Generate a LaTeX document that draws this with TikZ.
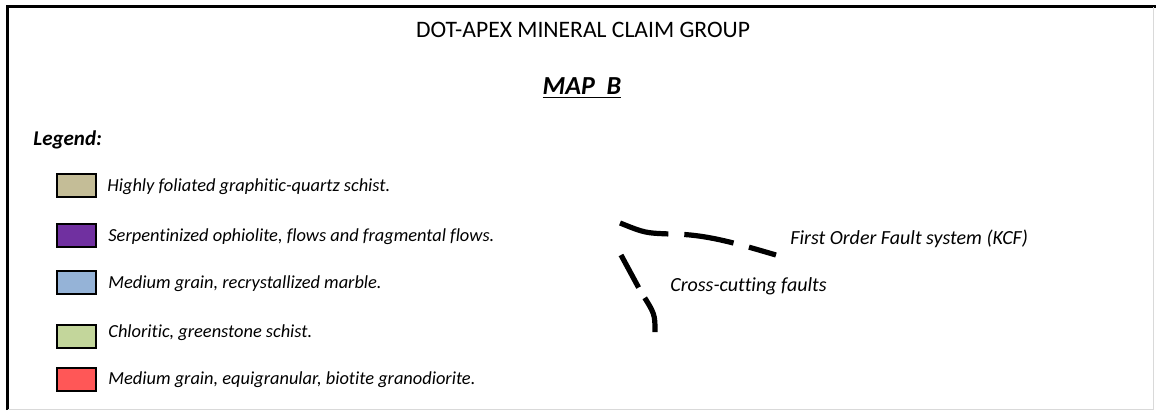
\documentclass[tikz,border=0pt]{standalone}
\usepackage{fontspec}
\setmainfont{Carlito}[Ligatures=NoCommon]
\usepackage{tikz}
\usepackage{xcolor}
\definecolor{schistTan}{HTML}{C4BD97}
\definecolor{ophioPurple}{HTML}{7030A0}
\definecolor{marbleBlue}{HTML}{95B3D7}
\definecolor{greenSchist}{HTML}{C3D69B}
\definecolor{graniteRed}{HTML}{FF5757}
\tikzset{%
  legbox/.style={draw=black, line width=1pt, minimum width=19.5pt, minimum height=11.5pt, inner sep=0pt},
  legtext/.style={anchor=west, inner sep=0pt, font=\fontsize{9.2}{11}\selectfont\itshape},
  faulttext/.style={anchor=west, inner sep=0pt, font=\fontsize{10}{12}\selectfont\itshape},
  fault/.style={line width=2.6pt, black}
}

\begin{document}
\begin{tikzpicture}[x=.5pt,y=-.5pt]
\useasboundingbox (0,0) rectangle (1156,412);
% frame
\draw[line width=1.5pt] (7.5,410) -- (7.5,6.5) -- (1156,6.5);
\draw[black!15, line width=.6pt] (7.5,409.5) -- (1153.5,409.5) -- (1153.5,6.5);
% titles
\node (title) at (583,30) {\fontsize{11.8}{14}\selectfont DOT-APEX MINERAL CLAIM GROUP};
\node (mapb) at (582,88) {\fontsize{13}{16}\selectfont\bfseries\itshape \underline{MAP\ \ B}};
\node[anchor=west, inner sep=0pt] (legend) at (33,140) {\fontsize{10.5}{13}\selectfont\bfseries\itshape Legend:};
% legend boxes
\node[legbox, fill=schistTan] (b1) at (76,185.5) {};
\node[legbox, fill=ophioPurple] (b2) at (76,235.5) {};
\node[legbox, fill=marbleBlue] (b3) at (76,282.5) {};
\node[legbox, fill=greenSchist] (b4) at (76,336.5) {};
\node[legbox, fill=graniteRed] (b5) at (76,379) {};
\node[legtext] (t1) at (107,187) {Highly foliated graphitic-quartz schist.};
\node[legtext] (t2) at (108,237) {Serpentinized ophiolite, flows and fragmental flows.};
\node[legtext] (t3) at (108,284) {Medium grain, recrystallized marble.};
\node[legtext] (t4) at (108,333) {Chloritic, greenstone schist.};
\node[legtext] (t5) at (108,380) {Medium grain, equigranular, biotite granodiorite.};
% faults
\draw[fault, dash pattern=on 25pt off 8pt] (620,223) .. controls (645,233) .. (670,234) .. controls (705,234) and (735,243) .. (776,255);
\draw[fault, dash pattern=on 18.5pt off 6pt] (621,255) -- (641,292) .. controls (655,314) .. (655,332);
\node[faulttext] (kcf) at (790,239) {First Order Fault system (KCF)};
\node[faulttext] (cross) at (670,286) {Cross-cutting faults};
\end{tikzpicture}
\end{document}
